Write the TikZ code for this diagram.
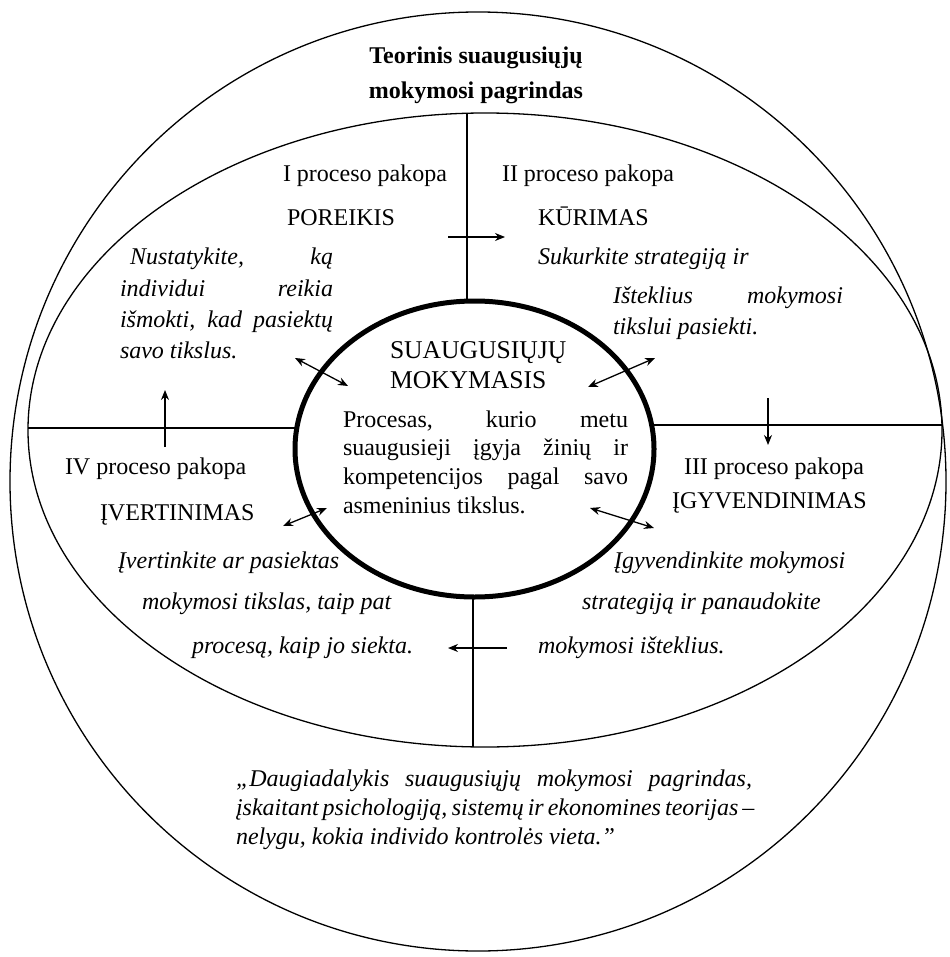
\documentclass[tikz,border=0pt]{standalone}
\usepackage{fontspec}
\setmainfont{Liberation Serif}
\usetikzlibrary{shapes.geometric,arrows.meta}
\newcommand{\fsz}{\fontsize{12pt}{14pt}\selectfont}
\begin{document}
\begin{tikzpicture}[x=0.5pt,y=-0.5pt,
  every node/.style={inner sep=0pt, outer sep=0pt},
  ring/.style={draw, ellipse, line width=0.65pt},
  hub/.style={draw, ellipse, line width=2.5pt},
  divider/.style={line width=0.8pt},
  flow/.style={line width=0.65pt, -{Stealth[length=5pt,width=4pt]}},
  twoway/.style={line width=0.65pt, {Stealth[length=5pt,width=4pt]}-{Stealth[length=5pt,width=4pt]}},
  uptext/.style={anchor=base west, font=\fsz},
  ittext/.style={anchor=base west, font=\fsz\itshape},
  titletext/.style={anchor=base, font=\fsz\bfseries},
  captext/.style={anchor=base west, font=\fontsize{12.8pt}{14pt}\selectfont},
]
\useasboundingbox (0,0) rectangle (949,957);
\fill[white] (0,0) rectangle (949,957);

% rings
\node[ring, minimum width=468pt, minimum height=469.5pt] (outer) at (478,481.5) {};
\node[ring, minimum width=457pt, minimum height=317pt] (inner) at (485,430) {};
\node[hub, minimum width=179.5pt, minimum height=148pt] (hubc) at (474.5,449) {};

% dividers
\coordinate (vt1) at (467,113);  \coordinate (vt2) at (467,301);
\coordinate (vb1) at (473,597);  \coordinate (vb2) at (473,747);
\coordinate (hl1) at (28,428);   \coordinate (hl2) at (295,428);
\coordinate (hr1) at (654,425);  \coordinate (hr2) at (942,425);
\draw[divider] (vt1) -- (vt2);
\draw[divider] (vb1) -- (vb2);
\draw[divider] (hl1) -- (hl2);
\draw[divider] (hr1) -- (hr2);

% cycle arrows
\coordinate (a1s) at (448,237); \coordinate (a1e) at (505,237);
\coordinate (a2s) at (768,398); \coordinate (a2e) at (768,445);
\coordinate (a3s) at (507,648); \coordinate (a3e) at (448,648);
\coordinate (a4s) at (165,447); \coordinate (a4e) at (165,390);
\draw[flow] (a1s) -- (a1e);
\draw[flow] (a2s) -- (a2e);
\draw[flow] (a3s) -- (a3e);
\draw[flow] (a4s) -- (a4e);

% double arrows
\coordinate (d1a) at (295,358); \coordinate (d1b) at (348,386);
\coordinate (d2a) at (588,387); \coordinate (d2b) at (655,358);
\coordinate (d3a) at (283,526); \coordinate (d3b) at (327,508);
\coordinate (d4a) at (590,508); \coordinate (d4b) at (654,528);
\draw[twoway] (d1a) -- (d1b);
\draw[twoway] (d2a) -- (d2b);
\draw[twoway] (d3a) -- (d3b);
\draw[twoway] (d4a) -- (d4b);

% title
\node[titletext] (title1) at (476,64) {Teorinis suaugusiųjų};
\node[titletext] (title2) at (476,99) {mokymosi pagrindas};

% stage I
\node[uptext] (s1a) at (283,182) {I proceso pakopa};
\node[uptext] (s1b) at (287,226) {POREIKIS};
\node[ittext] (s1c) at (130,264) {\makebox[101.5pt][s]{Nustatykite, ką}};
\node[ittext] (s1d) at (120,296) {\makebox[106.5pt][s]{individui reikia}};
\node[ittext] (s1e) at (120,327) {\makebox[106.5pt][s]{išmokti, kad pasiektų}};
\node[ittext] (s1f) at (120,358) {savo tikslus.};

% stage II
\node[uptext] (s2a) at (502,182) {II proceso pakopa};
\node[uptext] (s2b) at (538,226) {KŪRIMAS};
\node[ittext] (s2c) at (538,264) {Sukurkite strategiją ir};
\node[ittext] (s2d) at (613,303) {\makebox[115pt][s]{Išteklius mokymosi}};
\node[ittext] (s2e) at (613,334) {tikslui pasiekti.};

% centre
\node[captext] (c1) at (390,358) {SUAUGUSIŲJŲ};
\node[captext] (c2) at (390,388) {MOKYMASIS};
\node[uptext] (c3) at (343,427) {\makebox[142.5pt][s]{Procesas, kurio metu}};
\node[uptext] (c4) at (343,455) {\makebox[142.5pt][s]{suaugusieji įgyja žinių ir}};
\node[uptext] (c5) at (343,484) {\makebox[142.5pt][s]{kompetencijos pagal savo}};
\node[uptext] (c6) at (343,513) {asmeninius tikslus.};

% stage III
\node[uptext] (s3a) at (684,474) {III proceso pakopa};
\node[uptext] (s3b) at (672,508) {ĮGYVENDINIMAS};
\node[ittext] (s3c) at (614,568) {Įgyvendinkite mokymosi};
\node[ittext] (s3d) at (582,609) {strategiją ir panaudokite};
\node[ittext] (s3e) at (538,653) {mokymosi išteklius.};

% stage IV
\node[uptext] (s4a) at (65,474) {IV proceso pakopa};
\node[uptext] (s4b) at (100,520) {ĮVERTINIMAS};
\node[ittext] (s4c) at (118,568) {Įvertinkite ar pasiektas};
\node[ittext] (s4d) at (142,609) {mokymosi tikslas, taip pat};
\node[ittext] (s4e) at (192,653) {procesą, kaip jo siekta.};

% quote
\node[ittext] (q1) at (236,786) {\makebox[258pt][s]{„Daugiadalykis suaugusiųjų mokymosi pagrindas,}};
\node[ittext] (q2) at (236,815) {\makebox[258pt][s]{įskaitant psichologiją, sistemų ir ekonomines teorijas –}};
\node[ittext] (q3) at (236,844) {nelygu, kokia individo kontrolės vieta.”};
\end{tikzpicture}
\end{document}
